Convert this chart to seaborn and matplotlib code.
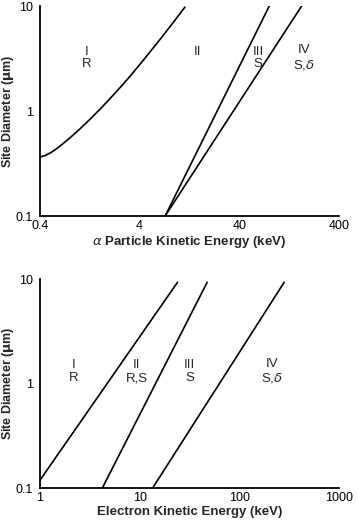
# plot.py
# Site diameter vs kinetic energy - regions I-IV for alpha particles and electrons

import matplotlib
matplotlib.use("Agg")
import matplotlib.pyplot as plt
import pandas as pd
import seaborn as sns

# -- Data ----------------------------------------------------------------------
# alpha particles: boundary I/II (curved), II/III and III/IV (straight)
alpha_b1_energy = [0.4, 0.449, 0.504, 0.566, 0.635, 0.800, 1.008, 1.269,
                   1.599, 2.014, 2.538, 3.197, 4.52, 6.39, 8.44, 11.39]
alpha_b1_diam = [0.365, 0.377, 0.398, 0.427, 0.464, 0.556, 0.677, 0.834,
                 1.040, 1.311, 1.667, 2.137, 3.180, 4.793, 6.722, 9.76]
alpha_b2_energy = [7.2, 80.0]
alpha_b2_diam = [0.1, 10.0]
alpha_b3_energy = [7.2, 169.0]
alpha_b3_diam = [0.1, 10.0]

# electrons: three straight boundaries
elec_b1_energy = [1.0, 24.0]
elec_b1_diam = [0.119, 9.3]
elec_b2_energy = [4.22, 47.6]
elec_b2_diam = [0.1, 9.3]
elec_b3_energy = [13.5, 282.0]
elec_b3_diam = [0.1, 9.3]

# region labels (text, x, y)
alpha_labels = [("I\nR", 1.18, 3.2), ("II\n ", 15.4, 3.2),
                ("III\nS", 62.0, 3.2), ("IV\nS,$\\delta$", 178.0, 3.2)]
elec_labels = [("I\nR", 2.19, 1.3), ("II\nR,S", 9.3, 1.3),
               ("III\nS", 31.9, 1.3), ("IV\nS,$\\delta$", 211.0, 1.3)]

alpha_ticks = [0.4, 4, 40, 400]
alpha_ticklabels = ["0.4", "4", "40", "400"]
elec_ticks = [1, 10, 100, 1000]
elec_ticklabels = ["1", "10", "100", "1000"]
y_ticks = [0.1, 1, 10]
y_ticklabels = ["0.1", "1", "10"]

# -- Style ---------------------------------------------------------------------
sns.set_style("white")
plt.rcParams['font.family'] = ['Liberation Sans', 'DejaVu Sans']
plt.rcParams['mathtext.fontset'] = 'dejavusans'


def build_frame(pairs):
    rows = []
    for i, (xs, ys) in enumerate(pairs):
        for x, y in zip(xs, ys):
            rows.append({'energy': x, 'diameter': y, 'boundary': i})
    return pd.DataFrame(rows)


def style_axis(ax, xlim, ticks, ticklabels, xlabel):
    ax.set_xscale('log')
    ax.set_yscale('log')
    ax.set_xlim(*xlim)
    ax.set_ylim(0.1, 10)
    ax.set_xticks(ticks)
    ax.set_xticklabels(ticklabels)
    ax.set_yticks(y_ticks)
    ax.set_yticklabels(y_ticklabels)
    ax.minorticks_off()
    ax.tick_params(length=0, labelsize=9, colors='black')
    ax.tick_params(axis='x', pad=3)
    ax.tick_params(axis='y', pad=5)
    sns.despine(ax=ax)
    for side in ['left', 'bottom']:
        ax.spines[side].set_linewidth(1.3)
        ax.spines[side].set_color('black')
    ax.set_xlabel(xlabel, fontsize=9.5, fontweight='bold')
    ax.set_ylabel('Site Diameter ($\\mathbf{\\mu}$m)', fontsize=9,
                  fontweight='bold')
    # place axis titles where the reference has them
    ax.xaxis.set_label_coords(0.5, -0.085)
    ax.yaxis.set_label_coords(-0.080, 0.5)


fig = plt.figure(figsize=(3.58, 5.22), dpi=100)
ax1 = fig.add_axes([0.1117, 0.586, 0.835, 0.4025])
ax2 = fig.add_axes([0.1117, 0.065, 0.835, 0.4005])

# -- Top panel: alpha particles ------------------------------------------------
df_a = build_frame([(alpha_b1_energy, alpha_b1_diam),
                    (alpha_b2_energy, alpha_b2_diam),
                    (alpha_b3_energy, alpha_b3_diam)])
sns.lineplot(data=df_a, x='energy', y='diameter', units='boundary',
             estimator=None, color='black', linewidth=1.2, ax=ax1,
             sort=False)
style_axis(ax1, (0.4, 400), alpha_ticks, alpha_ticklabels,
           '$\\alpha$ Particle Kinetic Energy (keV)')
for txt, x, y in alpha_labels:
    ax1.text(x, y, txt, ha='center', va='center', fontsize=9.5,
             linespacing=1.1)

# -- Bottom panel: electrons ---------------------------------------------------
df_e = build_frame([(elec_b1_energy, elec_b1_diam),
                    (elec_b2_energy, elec_b2_diam),
                    (elec_b3_energy, elec_b3_diam)])
sns.lineplot(data=df_e, x='energy', y='diameter', units='boundary',
             estimator=None, color='black', linewidth=1.2, ax=ax2,
             sort=False)
style_axis(ax2, (1, 1000), elec_ticks, elec_ticklabels,
           'Electron Kinetic Energy (keV)')
for txt, x, y in elec_labels:
    ax2.text(x, y, txt, ha='center', va='center', fontsize=9.5,
             linespacing=1.1)

fig.savefig('out.png', dpi=100)
plt.close(fig)
